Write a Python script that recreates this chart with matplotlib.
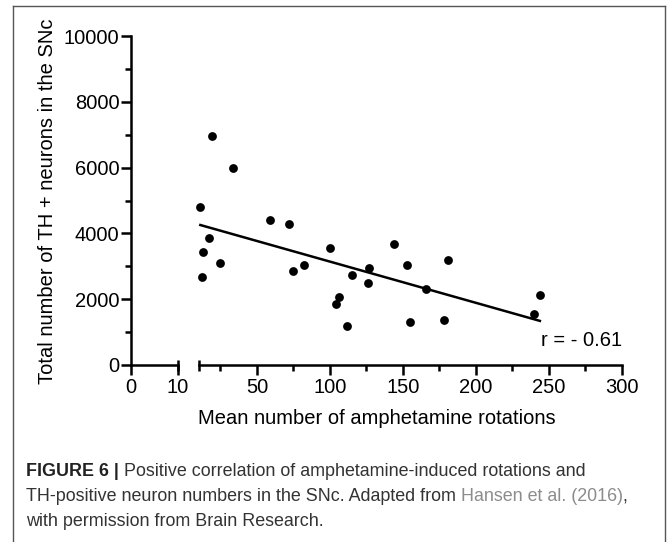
import matplotlib
matplotlib.use('Agg')
import matplotlib.pyplot as plt
import numpy as np
from matplotlib.lines import Line2D

plt.rcParams['font.family'] = ['Liberation Sans', 'DejaVu Sans']

# data (x = mean amphetamine rotations, y = TH+ neurons)
rotations = [11.2, 12.0, 13.2, 17.0, 19.0, 24.9, 33.9, 59.0, 72.1, 75.0,
             82.0, 99.8, 103.9, 105.9, 112.0, 114.9, 126.3, 126.9, 144.1,
             152.8, 154.9, 165.7, 177.9, 180.8, 240.0, 243.8]
th_neurons = [4790, 2670, 3420, 3860, 6970, 3100, 5980, 4420, 4300, 2870,
              3050, 3550, 1860, 2070, 1190, 2750, 2490, 2940, 3670,
              3050, 1310, 2300, 1370, 3180, 1560, 2120]
r_text = 'r = - 0.61'

left_ticks = [0, 10]
right_ticks = [50, 100, 150, 200, 250, 300]
right_minor = [25, 75, 125, 175, 225, 275]
y_ticks = [0, 2000, 4000, 6000, 8000, 10000]
y_minor = [1000, 3000, 5000, 7000, 9000]

W, H = 667, 542
fig = plt.figure(figsize=(W / 100, H / 100), dpi=100)
fig.patch.set_facecolor('white')

LW = 1.8
FS = 14.5
ax_b = 1 - 365 / H
ax_h = 329 / H
axL = fig.add_axes([131 / W, ax_b, 47 / W, ax_h])
axR = fig.add_axes([198.6 / W, ax_b, 423.3 / W, ax_h], sharey=axL)

for ax in (axL, axR):
    ax.set_facecolor('none')
    ax.spines['top'].set_visible(False)
    ax.spines['right'].set_visible(False)
    ax.spines['bottom'].set_linewidth(LW)
    ax.spines['left'].set_linewidth(LW)
    ax.tick_params(which='major', length=7.2, width=LW, labelsize=FS, pad=2.5)
    ax.tick_params(which='minor', length=4, width=LW)

axR.spines['left'].set_visible(False)
axR.tick_params(axis='y', which='both', left=False, labelleft=False)

axL.set_ylim(0, 10000)
axL.set_yticks(y_ticks)
axL.set_yticks(y_minor, minor=True)
axL.tick_params(axis='y', pad=1)

axL.set_xlim(0, 10)
axL.set_xticks(left_ticks)
axR.set_xlim(10, 300)
axR.set_xticks(right_ticks)
axR.set_xticks(right_minor, minor=True)

# break marks at both ends of the gap
for ax in (axL, axR):
    ax.plot([10, 10], [-0.017, 0.016], color='black', lw=LW,
            transform=ax.get_xaxis_transform(), clip_on=False,
            solid_capstyle='butt')

x = np.array(rotations)
y = np.array(th_neurons)
slope, intercept = np.polyfit(x, y, 1)
xs = np.array([x.min(), x.max()])
axR.plot(xs, slope * xs + intercept, color='black', lw=LW, clip_on=False)
axR.scatter(x, y, s=40, color='black', zorder=3, linewidths=0, clip_on=False)

axR.text(300, 730, r_text, ha='right', va='center', fontsize=FS)

fig.text(377 / W, 1 - 419 / H, 'Mean number of amphetamine rotations',
         ha='center', va='center', fontsize=FS)
fig.text(47.6 / W, 1 - 201.5 / H, 'Total number of TH + neurons in the SNc',
         ha='center', va='center', rotation=90, fontsize=FS)

# caption
renderer = fig.canvas.get_renderer()
dark = '#333333'
link = '#8c8c8c'
cap_fs = 12.9


def caption_line(y_px, pieces):
    xpos = 26 / W
    for txt, kw in pieces:
        t = fig.text(xpos, 1 - y_px / H, txt, va='baseline', ha='left',
                     fontsize=cap_fs, **kw)
        xpos += t.get_window_extent(renderer).width / fig.bbox.width


caption_line(476.5, [('FIGURE 6 |', dict(color='#222222', fontweight='bold')),
                     (' Positive correlation of amphetamine-induced rotations and',
                      dict(color=dark))])
caption_line(501.2, [('TH-positive neuron numbers in the SNc. Adapted from',
                      dict(color=dark)),
                     (' Hansen et al. (2016)', dict(color=link)),
                     (',', dict(color=dark))])
caption_line(525.8, [('with permission from Brain Research.', dict(color=dark))])

# frame around the figure panel (open at the bottom)
bx0, bx1, by = 12.5 / W, 665 / W, 1 - 6 / H
for xs_, ys_ in (([bx0, bx0], [0, by]), ([bx0, bx1], [by, by]), ([bx1, bx1], [by, 0])):
    fig.add_artist(Line2D(xs_, ys_, color='#555555', lw=1.0,
                          transform=fig.transFigure))

fig.savefig('out.png', dpi=100)
